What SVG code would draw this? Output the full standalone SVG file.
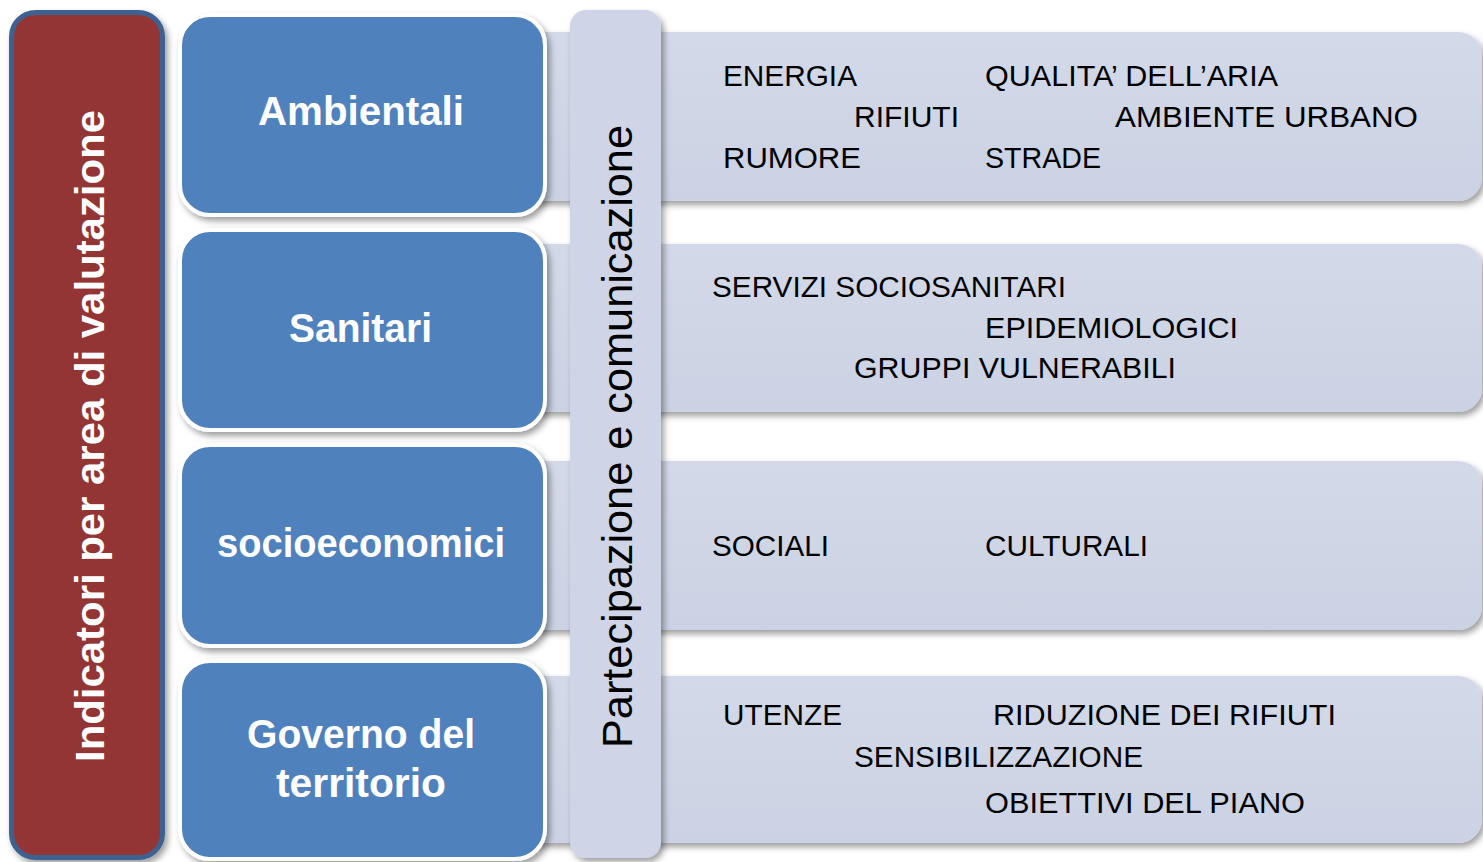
<svg xmlns="http://www.w3.org/2000/svg" width="1483" height="862" viewBox="0 0 1483 862">
<defs>
<filter id="sh" x="-10%" y="-10%" width="130%" height="130%">
<feDropShadow dx="3" dy="4" stdDeviation="3" flood-color="#000" flood-opacity="0.38"/>
</filter>
<linearGradient id="bandG" x1="0" y1="0" x2="0" y2="1">
<stop offset="0" stop-color="#d3d9e8"/>
<stop offset="1" stop-color="#cbd2e3"/>
</linearGradient>
<style>
.band{fill:url(#bandG);filter:url(#sh);}
.blue{fill:#4f81bd;stroke:#ffffff;stroke-width:4;filter:url(#sh);}
.red{fill:#943634;stroke:#3c6291;stroke-width:5;filter:url(#sh);}
.vbar{fill:#cfd5e6;filter:url(#sh);}
.bt{font-family:"Liberation Sans",Arial,sans-serif;font-weight:bold;font-size:40px;fill:#ffffff;}
.it{font-family:"Liberation Sans",Arial,sans-serif;font-size:30px;fill:#000000;}
.vt{font-family:"Liberation Sans",Arial,sans-serif;font-size:42px;fill:#000000;}
</style>
</defs>
<rect width="1483" height="862" fill="#ffffff"/>

<g id="band-ambientali">
<rect class="band" x="500" y="32" width="982" height="169" rx="24"/>
<text class="it" x="723" y="86" textLength="134" lengthAdjust="spacingAndGlyphs">ENERGIA</text>
<text class="it" x="985" y="86" textLength="293" lengthAdjust="spacingAndGlyphs">QUALITA’ DELL’ARIA</text>
<text class="it" x="854" y="127" textLength="105" lengthAdjust="spacingAndGlyphs">RIFIUTI</text>
<text class="it" x="1115" y="127" textLength="303" lengthAdjust="spacingAndGlyphs">AMBIENTE URBANO</text>
<text class="it" x="723" y="168" textLength="138" lengthAdjust="spacingAndGlyphs">RUMORE</text>
<text class="it" x="985" y="168" textLength="116" lengthAdjust="spacingAndGlyphs">STRADE</text>
</g>

<g id="band-sanitari">
<rect class="band" x="500" y="244" width="982" height="168" rx="24"/>
<text class="it" x="712" y="297" textLength="354" lengthAdjust="spacingAndGlyphs">SERVIZI SOCIOSANITARI</text>
<text class="it" x="985" y="338" textLength="253" lengthAdjust="spacingAndGlyphs">EPIDEMIOLOGICI</text>
<text class="it" x="854" y="378" textLength="322" lengthAdjust="spacingAndGlyphs">GRUPPI VULNERABILI</text>
</g>

<g id="band-socioeconomici">
<rect class="band" x="500" y="461" width="982" height="169" rx="24"/>
<text class="it" x="712" y="556" textLength="117" lengthAdjust="spacingAndGlyphs">SOCIALI</text>
<text class="it" x="985" y="556" textLength="163" lengthAdjust="spacingAndGlyphs">CULTURALI</text>
</g>

<g id="band-governo">
<rect class="band" x="500" y="676" width="982" height="167" rx="24"/>
<text class="it" x="723" y="725" textLength="119" lengthAdjust="spacingAndGlyphs">UTENZE</text>
<text class="it" x="993" y="725" textLength="343" lengthAdjust="spacingAndGlyphs">RIDUZIONE DEI RIFIUTI</text>
<text class="it" x="854" y="767" textLength="289" lengthAdjust="spacingAndGlyphs">SENSIBILIZZAZIONE</text>
<text class="it" x="985" y="813" textLength="320" lengthAdjust="spacingAndGlyphs">OBIETTIVI DEL PIANO</text>
</g>

<g id="partecipazione">
<rect class="vbar" x="570" y="10" width="91" height="848" rx="16"/>
<text class="vt" transform="translate(632,748) rotate(-90)" x="0" y="0" textLength="623" lengthAdjust="spacingAndGlyphs">Partecipazione e comunicazione</text>
</g>

<g id="indicatori">
<rect class="red" x="11.5" y="12.5" width="151" height="845" rx="24"/>
<text class="bt" transform="translate(104,762) rotate(-90)" x="0" y="0" textLength="652" lengthAdjust="spacingAndGlyphs">Indicatori per area di valutazione</text>
</g>

<g id="ambientali">
<rect class="blue" x="180" y="15" width="365" height="200" rx="30"/>
<text class="bt" x="258" y="125" textLength="206" lengthAdjust="spacingAndGlyphs">Ambientali</text>
</g>

<g id="sanitari">
<rect class="blue" x="180" y="230" width="365" height="200" rx="30"/>
<text class="bt" x="289" y="342" textLength="143" lengthAdjust="spacingAndGlyphs">Sanitari</text>
</g>

<g id="socioeconomici">
<rect class="blue" x="180" y="445" width="365" height="201" rx="30"/>
<text class="bt" x="217" y="557" textLength="288" lengthAdjust="spacingAndGlyphs">socioeconomici</text>
</g>

<g id="governo">
<rect class="blue" x="180" y="661" width="365" height="198" rx="30"/>
<text class="bt" x="247" y="748" textLength="228" lengthAdjust="spacingAndGlyphs">Governo del</text>
<text class="bt" x="276" y="797" textLength="170" lengthAdjust="spacingAndGlyphs">territorio</text>
</g>
</svg>
